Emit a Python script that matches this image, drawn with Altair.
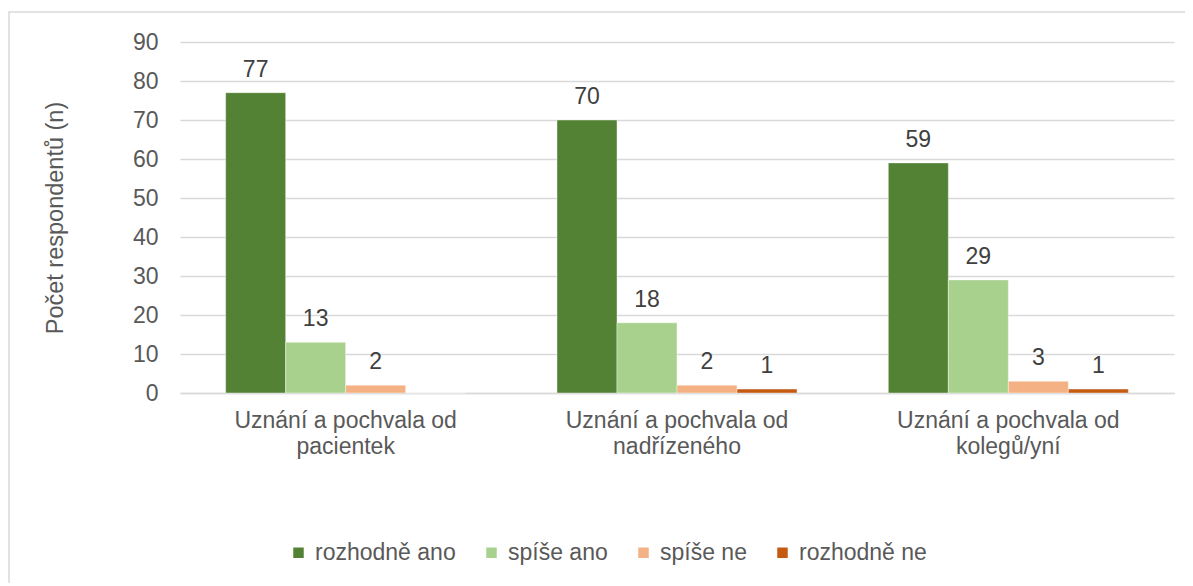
import altair as alt
import pandas as pd

categories = [
    "Uznání a pochvala od pacientek",
    "Uznání a pochvala od nadřízeného",
    "Uznání a pochvala od kolegů/yní",
]
series = ["rozhodně ano", "spíše ano", "spíše ne", "rozhodně ne"]
rozhodne_ano = [77, 70, 59]
spise_ano = [13, 18, 29]
spise_ne = [2, 2, 3]
rozhodne_ne = [0, 1, 1]
y_ticks = [0, 10, 20, 30, 40, 50, 60, 70, 80, 90]
colors = ["#548235", "#A9D18E", "#F4B183", "#C55A11"]

rows = []
for s, vals in zip(series, [rozhodne_ano, spise_ano, spise_ne, rozhodne_ne]):
    for c, v in zip(categories, vals):
        rows.append({"kategorie": c, "odpoved": s, "hodnota": v})
df = pd.DataFrame(rows)

FONT = "Liberation Sans"
TXT = "#595959"
GRID = "#D9D9D9"

x_enc = alt.X(
    "kategorie:N",
    sort=categories,
    title=None,
    scale=alt.Scale(paddingInner=0.2756, paddingOuter=0.1378),
    axis=alt.Axis(
        labelAngle=0,
        labelExpr="[slice(datum.label, 0, 20), slice(datum.label, 21)]",
        labelFontSize=23,
        labelColor=TXT,
        labelFont=FONT,
        labelLineHeight=26,
        labelPadding=16,
        labelBaseline="top",
        labelLimit=0,
        labelOverlap=False,
        ticks=False,
        domain=True,
        domainColor=GRID,
        domainWidth=1.5,
        grid=False,
    ),
)
xo_enc = alt.XOffset("odpoved:N", sort=series, scale=alt.Scale(paddingInner=0, paddingOuter=0))

y_enc = alt.Y(
    "hodnota:Q",
    scale=alt.Scale(domain=[0, 90], nice=False),
    title="Počet respondentů (n)",
    axis=alt.Axis(
        values=y_ticks,
        labelFontSize=23,
        labelColor=TXT,
        labelFont=FONT,
        labelPadding=22,
        labelOverlap=False,
        labelFlush=False,
        ticks=False,
        domain=False,
        grid=True,
        gridColor=GRID,
        gridWidth=1.5,
        titleFontSize=23.5,
        titleFont=FONT,
        titleColor=TXT,
        titleFontWeight="normal",
        titleX=-125,
        titleY=175.5,
        titleAngle=270,
        titleAlign="center",
        titleBaseline="middle",
    ),
)

color_enc = alt.Color(
    "odpoved:N",
    sort=series,
    scale=alt.Scale(domain=series, range=colors),
    legend=alt.Legend(
        title=None,
        orient="none",
        direction="horizontal",
        columns=4,
        legendX=107,
        legendY=499,
        symbolType="square",
        symbolSize=110,
        symbolStrokeWidth=0,
        labelFontSize=23,
        labelFont=FONT,
        labelColor=TXT,
        labelOffset=5,
        columnPadding=24,
        padding=0,
    ),
)

base = alt.Chart(df).encode(x=x_enc, xOffset=xo_enc, y=y_enc)

bars = base.mark_bar(stroke="white", strokeWidth=0.4).encode(color=color_enc)

labels = base.transform_filter("datum.hodnota > 0").mark_text(
    baseline="alphabetic", dy=-16, fontSize=23, font=FONT, color="#404040"
).encode(text=alt.Text("hodnota:Q"))

border = alt.Chart(pd.DataFrame({"a": [0]})).mark_rect(
    fill="white", fillOpacity=0, stroke=GRID, strokeWidth=1.5
).encode(
    x=alt.value(-171), x2=alt.value(1300), y=alt.value(-30), y2=alt.value(800)
)

chart = (
    alt.layer(bars, labels, border)
    .properties(
        width=994,
        height=351,
        autosize=alt.AutoSizeParams(type="none"),
        padding={"left": 172, "top": 34, "right": 11, "bottom": 190},
        view=alt.ViewBackground(stroke="transparent", strokeWidth=0),
    )
    .configure_view(strokeWidth=0, stroke="transparent")
    .configure(font=FONT)
)

chart.save("out.html", embed_options={"renderer": "svg", "actions": False})
